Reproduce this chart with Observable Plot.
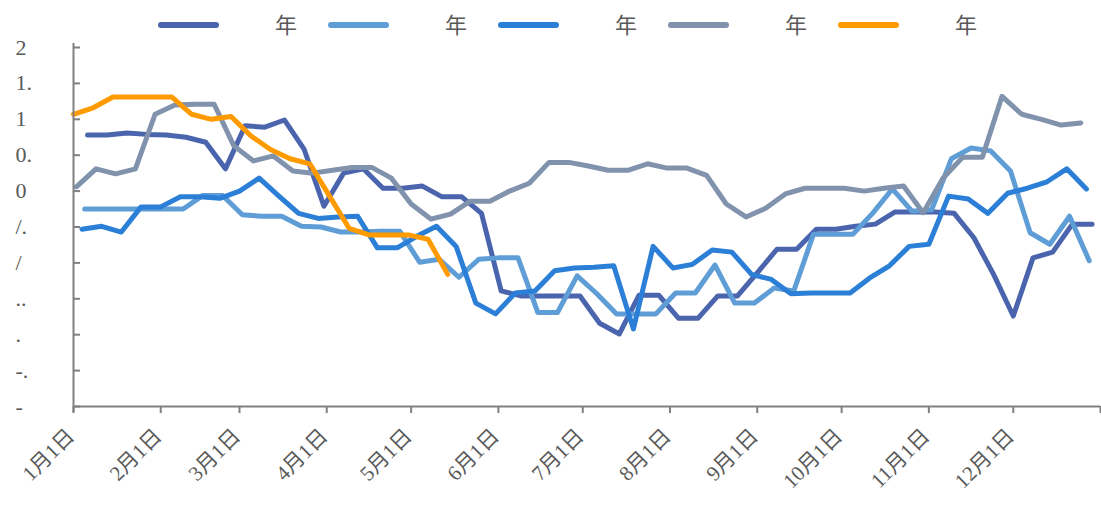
<!DOCTYPE html>
<html><head><meta charset="utf-8">
<script src="https://cdn.jsdelivr.net/npm/d3@7"></script>
<script src="https://cdn.jsdelivr.net/npm/@observablehq/plot@0.6"></script>
<style>
body{margin:0;background:#fff;width:1101px;height:505px;overflow:hidden;position:relative;}
#legend{position:absolute;left:0;top:0;width:1101px;height:40px;z-index:2;font-family:"Noto Sans CJK SC","Noto Sans",sans-serif;}
#chart{position:absolute;left:0;top:0;}
.item{position:absolute;top:0;height:40px;}
.sw{position:absolute;top:22px;left:0;width:61px;height:6px;border-radius:3px;}
.lb{position:absolute;top:8px;left:117px;font-size:22px;line-height:30px;color:#595959;white-space:nowrap;}
</style></head><body>
<div id="chart"></div><div id="legend"></div>
<script>
const seriesKeys = ["s1","s2","s3","s4","s5"];
const seriesNames = ["年","年","年","年","年"];
const seriesColors = ["#4a64ad","#5f9dd6","#2b7fd6","#8192ad","#ff9a00"];
const seriesStart = ["2021-01-06","2021-01-05","2021-01-04","2021-01-02","2021-01-01"];

const s1 = [0.78,0.78,0.81,0.79,0.78,0.75,0.68,0.31,0.91,0.89,0.99,0.58,-0.21,0.25,0.31,0.04,0.04,0.07,-0.08,-0.08,-0.31,-1.39,-1.46,-1.46,-1.46,-1.46,-1.84,-1.99,-1.45,-1.45,-1.77,-1.77,-1.46,-1.46,-1.14,-0.81,-0.81,-0.53,-0.53,-0.49,-0.46,-0.29,-0.29,-0.29,-0.31,-0.65,-1.16,-1.74,-0.93,-0.85,-0.46,-0.46];
const s2 = [-0.25,-0.25,-0.25,-0.25,-0.25,-0.25,-0.06,-0.06,-0.33,-0.35,-0.35,-0.49,-0.50,-0.57,-0.57,-0.56,-0.56,-0.99,-0.95,-1.20,-0.95,-0.93,-0.93,-1.69,-1.69,-1.18,-1.43,-1.71,-1.71,-1.71,-1.42,-1.42,-1.03,-1.56,-1.56,-1.35,-1.39,-0.60,-0.60,-0.60,-0.31,0.03,-0.28,-0.26,0.45,0.60,0.56,0.28,-0.58,-0.74,-0.35,-0.97];
const s3 = [-0.53,-0.49,-0.57,-0.22,-0.22,-0.08,-0.08,-0.10,0.00,0.18,-0.07,-0.31,-0.38,-0.36,-0.35,-0.79,-0.79,-0.63,-0.49,-0.77,-1.56,-1.71,-1.42,-1.39,-1.11,-1.07,-1.06,-1.04,-1.92,-0.77,-1.07,-1.02,-0.82,-0.85,-1.16,-1.23,-1.43,-1.42,-1.42,-1.42,-1.21,-1.04,-0.77,-0.74,-0.07,-0.11,-0.31,-0.03,0.04,0.13,0.31,0.03];
const s4 = [0.06,0.31,0.24,0.31,1.07,1.20,1.21,1.21,0.63,0.42,0.49,0.28,0.25,0.29,0.33,0.33,0.18,-0.18,-0.39,-0.32,-0.14,-0.14,0.00,0.11,0.40,0.40,0.35,0.29,0.29,0.38,0.32,0.32,0.22,-0.18,-0.36,-0.24,-0.04,0.04,0.04,0.04,0.00,0.04,0.07,-0.30,0.18,0.47,0.47,1.32,1.07,1.00,0.92,0.95];
const s5 = [1.07,1.16,1.31,1.31,1.31,1.31,1.07,1.00,1.04,0.77,0.58,0.45,0.38,-0.07,-0.52,-0.61,-0.61,-0.61,-0.67,-1.16];
const seriesValues = [s1,s2,s3,s4,s5];

const yTicks = [2,1.5,1,0.5,0,-0.5,-1,-1.5,-2,-2.5,-3];
const yTickLabels = ["2","1.","1","0.","0","/.","/","..",".","-.","-"];
const monthLabels = ["1月1日","2月1日","3月1日","4月1日","5月1日","6月1日","7月1日","8月1日","9月1日","10月1日","11月1日","12月1日"];

const DAY = 864e5;
const x0 = new Date(Date.UTC(2021,0,1));
const x1 = new Date(Date.UTC(2022,0,1));
const monthDates = monthLabels.map((_, i) => new Date(Date.UTC(2021, i, 1)));
const tickDates = [...monthDates, x1];

const rows = [];
seriesValues.forEach((vals, si) => {
  const st = new Date(seriesStart[si] + "T00:00:00Z");
  vals.forEach((v, i) => rows.push({series: seriesKeys[si], date: new Date(+st + i * 7 * DAY), value: v}));
});

// legend
const leg = document.getElementById("legend");
seriesKeys.forEach((k, i) => {
  const it = document.createElement("div");
  it.className = "item";
  it.style.left = (158 + 170 * i) + "px";
  it.innerHTML = `<div class="sw" style="background:${seriesColors[i]}"></div><div class="lb">${seriesNames[i]}</div>`;
  leg.appendChild(it);
});

const W = 1101, H = 505, mt = 47, mb = 99;
const axisColor = "#808080";

const chart = Plot.plot({
  width: W, height: H,
  marginLeft: 73, marginRight: 1, marginTop: mt, marginBottom: mb,
  style: {fontFamily: "'Liberation Serif','Noto Sans CJK SC',serif", color: "#595959", background: "#fff"},
  x: {type: "utc", domain: [x0, x1], axis: null},
  y: {domain: [-3, 2], axis: null},
  color: {domain: seriesKeys, range: seriesColors},
  marks: [
    Plot.line(rows, {x: "date", y: "value", z: "series", stroke: "series", strokeWidth: 5, strokeLinejoin: "round", strokeLinecap: "round"}),
    Plot.ruleX([x0], {stroke: axisColor, strokeWidth: 2, insetTop: -4, insetBottom: -6}),
    Plot.ruleY([-3], {stroke: axisColor, strokeWidth: 2}),
    Plot.tickY(yTicks, {y: d => d, stroke: axisColor, strokeWidth: 2, insetRight: W - 73 - 1 - 7}),
    Plot.axisX({ticks: tickDates, tickSize: 7, tickFormat: () => "", stroke: axisColor, strokeWidth: 2}),
    Plot.text(yTicks, {y: d => d, text: (d, i) => yTickLabels[i], frameAnchor: "left", dx: -58, textAnchor: "start", fontSize: 22, fill: "#595959"}),
    Plot.text(monthDates, {x: d => d, text: (d, i) => monthLabels[i], frameAnchor: "bottom", rotate: -45, textAnchor: "end", dy: 31, dx: 2, fontSize: 21, fill: "#595959", ariaLabel: "xlabels"})
  ]
});
d3.select(chart).selectAll('g[aria-label="xlabels"] text').style("letter-spacing", "2px");
document.getElementById("chart").appendChild(chart);
</script>
</body></html>
